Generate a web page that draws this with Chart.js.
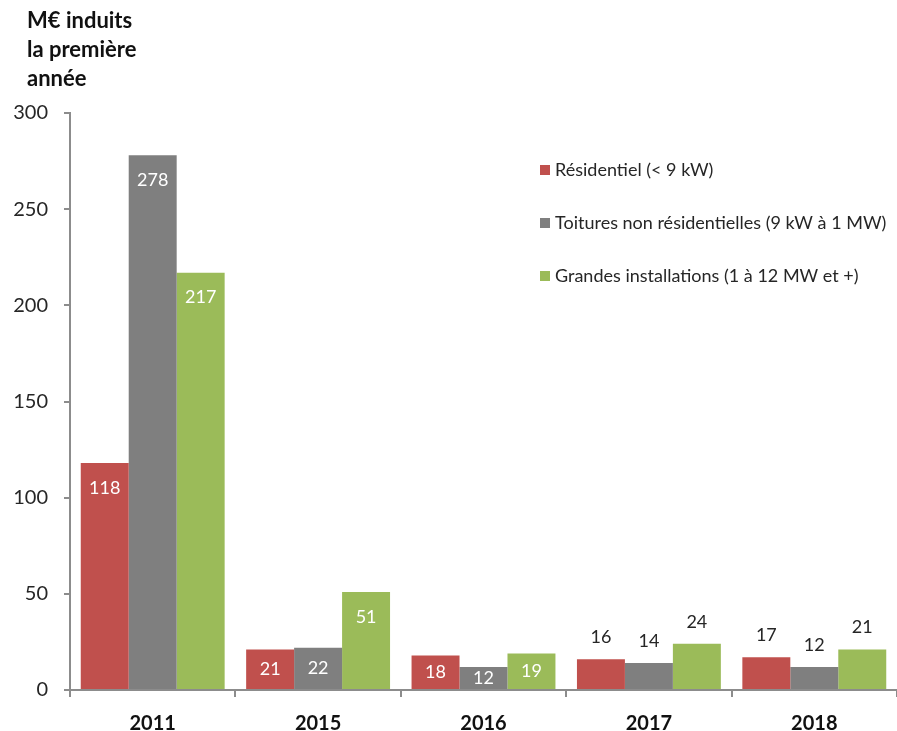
<!DOCTYPE html>
<html>
<head>
<meta charset="utf-8">
<script src="https://cdn.jsdelivr.net/npm/chart.js@4/dist/chart.umd.min.js"></script>
<style>
  html, body { margin: 0; padding: 0; background: #ffffff; }
  canvas { display: block; }
</style>
</head>
<body>
<canvas id="chart" width="897" height="731"></canvas>
<script>
// Years on the x axis
const years = ['2011', '2015', '2016', '2017', '2018'];

// M€ generated in the first year, per installation segment
const residentiel = [118, 21, 18, 16, 17];
const toitures = [278, 22, 12, 14, 12];
const grandes = [217, 51, 19, 24, 21];

// Series names
const seriesNames = [
  'Résidentiel (< 9 kW)',
  'Toitures non résidentielles (9 kW à 1 MW)',
  'Grandes installations (1 à 12 MW et +)'
];

// Axis title lines
const titleLines = ['M€ induits', 'la première', 'année'];

// Y axis ticks
const yMin = 0, yMax = 300, yStep = 50;

// Years whose value labels sit inside the bars
const labelsInside = [true, true, true, false, false];

const colors = ['#C0504D', '#7F7F7F', '#9BBB59'];
const FONT = 'Lato, "Liberation Sans", sans-serif';
const AXIS_COLOR = '#8C8C8C';
const TEXT_COLOR = '#262626';

// Left-hand axis title, drawn top-left
const titlePlugin = {
  id: 'axisTitle',
  afterDraw(chart) {
    const ctx = chart.ctx;
    ctx.save();
    ctx.font = 'bold 22px ' + FONT;
    ctx.fillStyle = '#111111';
    ctx.textAlign = 'left';
    ctx.textBaseline = 'alphabetic';
    titleLines.forEach((line, i) => ctx.fillText(line, 27, 28 + i * 29));
    ctx.restore();
  }
};

// Legend placed inside the plot area, on the right
const legendPlugin = {
  id: 'innerLegend',
  afterDraw(chart) {
    const ctx = chart.ctx;
    ctx.save();
    ctx.font = '18px ' + FONT;
    ctx.textBaseline = 'middle';
    ctx.textAlign = 'left';
    chart.data.datasets.forEach((ds, i) => {
      const y = 170 + i * 53;
      ctx.fillStyle = ds.backgroundColor;
      ctx.fillRect(540, y - 5, 10, 10);
      ctx.fillStyle = TEXT_COLOR;
      ctx.fillText(ds.label, 555, y);
    });
    ctx.restore();
  }
};

// Value labels: white inside the bar top, or dark above the bar
const valueLabelPlugin = {
  id: 'valueLabels',
  afterDatasetsDraw(chart) {
    const ctx = chart.ctx;
    ctx.save();
    ctx.font = '18px ' + FONT;
    ctx.textAlign = 'center';
    ctx.textBaseline = 'middle';
    chart.data.datasets.forEach((ds, di) => {
      const meta = chart.getDatasetMeta(di);
      meta.data.forEach((bar, i) => {
        const v = ds.data[i];
        const top = bar.y, base = bar.base;
        let y;
        if (labelsInside[i]) {
          ctx.fillStyle = '#FFFFFF';
          y = Math.min(top + 25, (top + base) / 2);
        } else {
          ctx.fillStyle = TEXT_COLOR;
          y = top - 22;
        }
        ctx.fillText(String(v), bar.x, y);
      });
    });
    ctx.restore();
  }
};

new Chart(document.getElementById('chart'), {
  type: 'bar',
  data: {
    labels: years,
    datasets: [
      { label: seriesNames[0], data: residentiel, backgroundColor: colors[0] },
      { label: seriesNames[1], data: toitures, backgroundColor: colors[1] },
      { label: seriesNames[2], data: grandes, backgroundColor: colors[2] }
    ]
  },
  options: {
    responsive: false,
    animation: false,
    devicePixelRatio: 1,
    layout: { padding: { top: 113, left: 0, right: -5, bottom: 0 } },
    datasets: {
      bar: { categoryPercentage: 0.87, barPercentage: 1.0, borderWidth: 0 }
    },
    plugins: {
      legend: { display: false },
      tooltip: { enabled: false },
      title: { display: false }
    },
    scales: {
      x: {
        offset: true,
        grid: {
          offset: true,
          drawOnChartArea: false,
          drawTicks: true,
          tickLength: 7,
          color: AXIS_COLOR,
          lineWidth: 2
        },
        border: { display: true, color: AXIS_COLOR, width: 2 },
        ticks: {
          color: '#111111',
          font: { family: FONT, size: 20, weight: 'bold' },
          padding: 15,
          maxRotation: 0
        },
        afterFit(scale) { scale.height = 41; }
      },
      y: {
        min: yMin,
        max: yMax,
        grid: {
          drawOnChartArea: false,
          drawTicks: true,
          tickLength: 6,
          color: AXIS_COLOR,
          lineWidth: 2
        },
        border: { display: true, color: AXIS_COLOR, width: 2 },
        ticks: {
          stepSize: yStep,
          color: TEXT_COLOR,
          font: { family: FONT, size: 20 },
          padding: 16
        },
        afterFit(scale) { scale.width = 70; }
      }
    }
  },
  plugins: [titlePlugin, legendPlugin, valueLabelPlugin]
});
</script>
</body>
</html>
